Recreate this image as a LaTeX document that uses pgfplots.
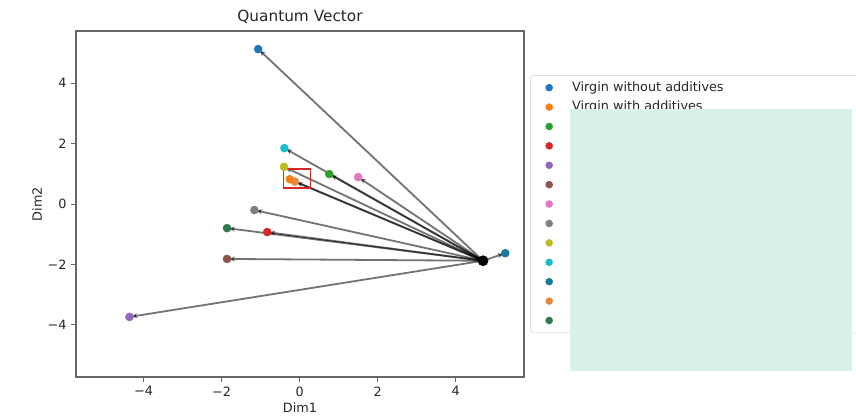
\documentclass[border=0pt]{standalone}
\usepackage{fontspec}
\setmainfont{DejaVu Sans}
\usepackage{pgfplots}
\pgfplotsset{compat=1.18}
\usetikzlibrary{arrows.meta}

% tab10-style palette, plus the second cycle used for entries 11-13
\definecolor{cA}{HTML}{1F77B4}
\definecolor{cB}{HTML}{FF7F0E}
\definecolor{cC}{HTML}{2CA02C}
\definecolor{cD}{HTML}{D62728}
\definecolor{cE}{HTML}{9467BD}
\definecolor{cF}{HTML}{8C564B}
\definecolor{cG}{HTML}{E377C2}
\definecolor{cH}{HTML}{7F7F7F}
\definecolor{cI}{HTML}{BCBD22}
\definecolor{cJ}{HTML}{17BECF}
\definecolor{cK}{HTML}{1B7A9E}
\definecolor{cL}{HTML}{E8883E}
\definecolor{cM}{HTML}{2E7A4E}
\definecolor{mint}{HTML}{D9F1EB}
\definecolor{boxred}{HTML}{D62728}

\newcommand{\fs}{\fontsize{9.6}{11}\selectfont}

\pgfplotsset{
  pt/.style={only marks, mark=*, mark size=3pt, color=#1,
    legend image code/.code={\draw[mark size=2.6pt] plot coordinates {(0pt,0pt)};}},
  vec/.style={black, opacity=0.55, line width=1.35pt,
    -{Stealth[length=4.5pt,width=3.8pt]}, shorten >=1.5pt, forget plot},
}

\begin{document}
\begin{tikzpicture}[x=0.75pt,y=0.75pt]
\useasboundingbox (0,0) rectangle (856,417);
\begin{axis}[
  at={(57pt,30pt)}, anchor=south west,
  width=336pt, height=259.5pt, scale only axis,
  xmin=-5.73, xmax=5.75, ymin=-5.73, ymax=5.73,
  xtick={-4,-2,0,2,4}, xticklabels={−4,−2,0,2,4},
  ytick={-4,-2,0,2,4}, yticklabels={−4,−2,0,2,4},
  tick align=outside, major tick length=3.6pt,
  xtick pos=bottom, ytick pos=left,
  tick style={black!60, line width=0.6pt},
  axis line style={black!60, line width=0.8pt},
  ticklabel style={font=\fs, text=black!85},
  title={Quantum Vector},
  title style={at={(0.5,1)}, anchor=south, inner sep=0pt, yshift=-0.5pt,
    font=\fontsize{11.5}{13}\selectfont, text=black!85},
  xlabel={Dim1}, ylabel={Dim2},
  xlabel style={at={(axis description cs:0.5,-0.0896)}, anchor=center, font=\fs, text=black!85},
  ylabel style={at={(axis description cs:-0.0871,0.5)}, anchor=center, font=\fs, text=black!85},
  legend cell align=left,
  legend style={at={(1.0134,0.8728)}, anchor=north west, draw=black!18,
    rounded corners=2.5pt, fill=white, font=\fs, text=black!85,
    inner xsep=11.6pt, inner ysep=4.5pt, row sep=4.95pt, column sep=14.6pt,
    nodes={inner sep=0pt, text height=7.3pt, text depth=2.3pt}},
]
% samples
\addplot[pt=cA] coordinates {(-1.06,5.13)};
\addlegendentry{\makebox[250pt][l]{Virgin without additives}}
\addplot[pt=cB] coordinates {(-0.25,0.82)};
\addlegendentry{Virgin with additives}
\addplot[pt=cC] coordinates {(0.76,0.99)};
\addlegendentry{\mbox{}}
\addplot[pt=cD] coordinates {(-0.83,-0.93)};
\addlegendentry{\mbox{}}
\addplot[pt=cE] coordinates {(-4.36,-3.74)};
\addlegendentry{\mbox{}}
\addplot[pt=cF] coordinates {(-1.86,-1.82)};
\addlegendentry{\mbox{}}
\addplot[pt=cG] coordinates {(1.50,0.89)};
\addlegendentry{\mbox{}}
\addplot[pt=cH] coordinates {(-1.16,-0.20)};
\addlegendentry{\mbox{}}
\addplot[pt=cI] coordinates {(-0.40,1.23)};
\addlegendentry{\mbox{}}
\addplot[pt=cJ] coordinates {(-0.39,1.85)};
\addlegendentry{\mbox{}}
\addplot[pt=cK] coordinates {(5.27,-1.63)};
\addlegendentry{\mbox{}}
\addplot[pt=cL] coordinates {(-0.12,0.74)};
\addlegendentry{\mbox{}}
\addplot[pt=cM] coordinates {(-1.86,-0.80)};
\addlegendentry{\mbox{}}

% vectors from the reference point to each sample
\addplot[vec] coordinates {(4.70,-1.88) (-1.06,5.13)};
\addplot[vec] coordinates {(4.70,-1.88) (-0.25,0.82)};
\addplot[vec] coordinates {(4.70,-1.88) (0.76,0.99)};
\addplot[vec] coordinates {(4.70,-1.88) (-0.83,-0.93)};
\addplot[vec] coordinates {(4.70,-1.88) (-4.36,-3.74)};
\addplot[vec] coordinates {(4.70,-1.88) (-1.86,-1.82)};
\addplot[vec] coordinates {(4.70,-1.88) (1.50,0.89)};
\addplot[vec] coordinates {(4.70,-1.88) (-1.16,-0.20)};
\addplot[vec] coordinates {(4.70,-1.88) (-0.40,1.23)};
\addplot[vec] coordinates {(4.70,-1.88) (-0.39,1.85)};
\addplot[vec] coordinates {(4.70,-1.88) (5.27,-1.63)};
\addplot[vec] coordinates {(4.70,-1.88) (-0.12,0.74)};
\addplot[vec] coordinates {(4.70,-1.88) (-1.86,-0.80)};

% reference point
\addplot[only marks, mark=*, mark size=3.8pt, black, forget plot] coordinates {(4.70,-1.88)};

% highlight box
\addplot[boxred, line width=0.9pt, forget plot] coordinates
  {(-0.42,0.53) (0.27,0.53) (0.27,1.16) (-0.42,1.16) (-0.42,0.53)};
\end{axis}
% cover panel over the legend
\fill[mint] (570,46) rectangle (852,308);
\end{tikzpicture}
\end{document}
